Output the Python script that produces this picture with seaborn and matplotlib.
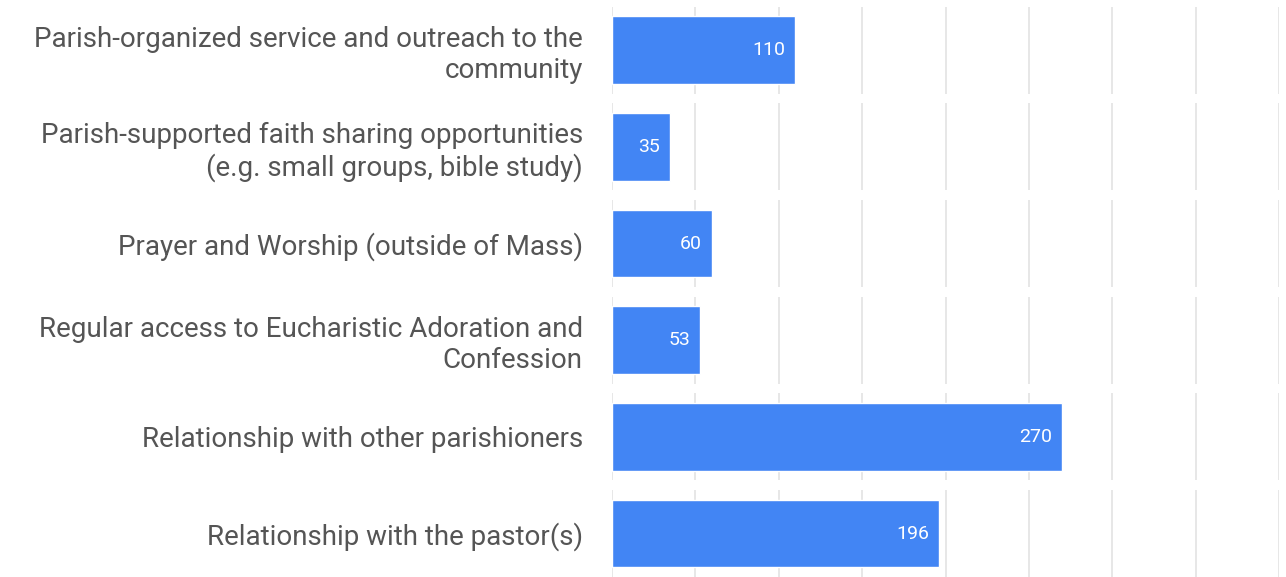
import matplotlib
matplotlib.use("Agg")
import matplotlib.pyplot as plt
import seaborn as sns
import numpy as np

categories = [
    "Parish-organized service and outreach to the\ncommunity",
    "Parish-supported faith sharing opportunities\n(e.g. small groups, bible study)",
    "Prayer and Worship (outside of Mass)",
    "Regular access to Eucharistic Adoration and\nConfession",
    "Relationship with other parishioners",
    "Relationship with the pastor(s)",
]
values = [110, 35, 60, 53, 270, 196]
grid_ticks = [0, 50, 100, 150, 200, 250, 300, 350, 400]

BAR_COLOR = "#4285F4"
GRID_COLOR = "#e3e3e3"
TEXT_COLOR = "#555555"

sns.set_theme(style="white")
plt.rcParams["font.family"] = ["Roboto", "DejaVu Sans"]

fig = plt.figure(figsize=(12.86, 5.77), dpi=100)
ax = fig.add_axes([612 / 1286, 0.0, 667 / 1286, 1.0])

sns.barplot(x=values, y=categories, orient="h", color=BAR_COLOR,
            saturation=1, width=0.7, ax=ax, zorder=3)

# gridlines are drawn per category band, leaving white gaps between rows
for i in range(len(categories)):
    ax.vlines(grid_ticks, i - 0.45, i + 0.45, colors=GRID_COLOR,
              linewidth=1.2, zorder=1)

for i, v in enumerate(values):
    ax.annotate(str(v), xy=(v, i), xytext=(-10, 0), textcoords="offset pixels",
                ha="right", va="center", color="white", fontsize=14, zorder=4)

ax.set_xlim(0, 400)
ax.set_ylim(5.45, -0.52)
ax.set_xticks([])
ax.set_xlabel("")
ax.set_ylabel("")
ax.tick_params(axis="y", length=0, pad=21)
for lab in ax.get_yticklabels():
    lab.set_fontsize(20)
    lab.set_color(TEXT_COLOR)
    lab.set_linespacing(1.18)
    lab.set_horizontalalignment("right")
    lab.set_multialignment("right")
for s in ax.spines.values():
    s.set_visible(False)

fig.savefig("out.png", dpi=100)
